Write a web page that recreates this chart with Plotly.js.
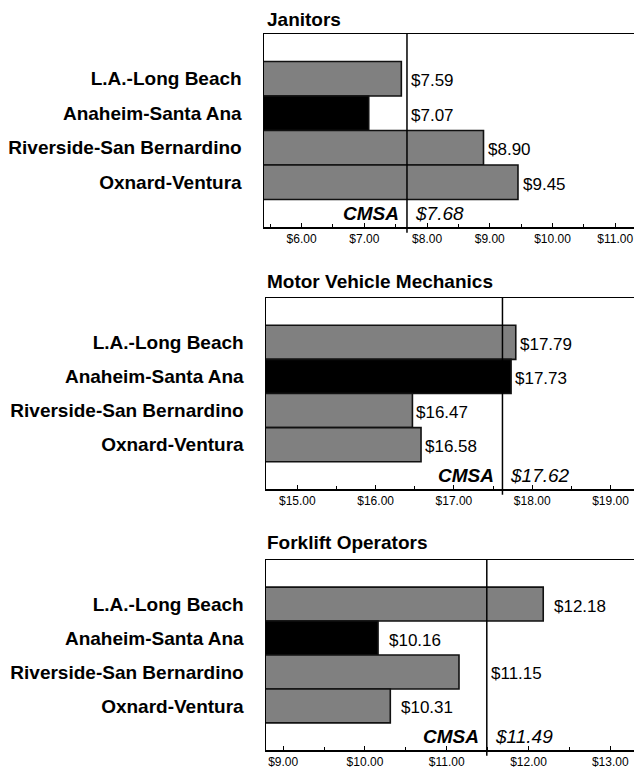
<!DOCTYPE html>
<html>
<head>
<meta charset="utf-8">
<script src="https://cdn.plot.ly/plotly-3.0.1.min.js"></script>
<style>html,body{margin:0;padding:0;background:#fff;}#chart{width:634px;height:771px;}</style>
</head>
<body>
<div id="chart"></div>
<script>
// ---- data ----
const categories = ['L.A.-Long Beach', 'Anaheim-Santa Ana', 'Riverside-San Bernardino', 'Oxnard-Ventura'];
const titles = ['Janitors', 'Motor Vehicle Mechanics', 'Forklift Operators'];
const janitors = [7.59, 7.07, 8.90, 9.45];
const mechanics = [17.79, 17.73, 16.47, 16.58];
const forklift = [12.18, 10.16, 11.15, 10.31];
const cmsa = [7.68, 17.62, 11.49];
const cmsaLabel = 'CMSA';

// ---- styling / layout ----
const series = [janitors, mechanics, forklift];
const barColors = ['#808080', '#000000', '#808080', '#808080'];
const W = 634, H = 771;
const FONT = 'Arial, "Liberation Sans", Helvetica, sans-serif';
const panels = [
  {top: 34, bottom: 227, left: 264, xrange: [5.4, 11.3], labShift: 3, titleY: 19},
  {top: 298, bottom: 489, left: 266, xrange: [14.6, 19.3], labShift: 2, titleY: 281},
  {top: 560, bottom: 750, left: 266, xrange: [8.79, 13.29], labShift: 9, titleY: 542}
];
const yPos = categories.map((c, i) => categories.length - i);
const LABEL_W = 50; // approx px width of a value label

const data = [];
const shapes = [];
const annotations = [];
const layout = {
  width: W, height: H,
  margin: {l: 0, r: 0, t: 0, b: 0},
  paper_bgcolor: '#fff', plot_bgcolor: '#fff',
  showlegend: false,
  bargap: 0,
  font: {family: FONT, color: '#000'},
  shapes: shapes, annotations: annotations
};

panels.forEach((p, k) => {
  const sfx = k === 0 ? '' : String(k + 1);
  const xa = 'x' + sfx, ya = 'y' + sfx;
  const vals = series[k];
  const pxPerUnit = (W - p.left) / (p.xrange[1] - p.xrange[0]);
  data.push({
    type: 'bar', orientation: 'h',
    x: vals, y: yPos, width: 1,
    xaxis: xa, yaxis: ya,
    marker: {color: barColors, line: {color: '#111', width: 1.6}},
    hoverinfo: 'skip'
  });
  layout['xaxis' + sfx] = {
    anchor: ya,
    domain: [p.left / W, 1],
    range: p.xrange,
    tick0: 0, dtick: 1,
    tickprefix: '$', tickformat: '.2f',
    ticks: 'inside', ticklen: 4, tickwidth: 1, tickcolor: '#000',
    minor: {dtick: 0.5, ticks: 'inside', ticklen: 3, tickcolor: '#000', showgrid: false},
    showline: true, mirror: true, linecolor: '#000', linewidth: 1.5,
    showgrid: false, zeroline: false,
    tickfont: {family: FONT, size: 12, color: '#000'},
    fixedrange: true
  };
  layout['yaxis' + sfx] = {
    anchor: xa,
    domain: [1 - p.bottom / H, 1 - p.top / H],
    range: [-0.3, 5.3],
    tickvals: yPos, ticktext: categories,
    ticks: '', ticklabelstandoff: 17,
    showline: true, linecolor: '#000', linewidth: 1.5,
    showgrid: false, zeroline: false,
    tickfont: {family: FONT, size: 19, color: '#000', weight: 'bold'},
    fixedrange: true
  };
  // CMSA reference line
  shapes.push({
    type: 'line', xref: xa, yref: ya + ' domain',
    x0: cmsa[k], x1: cmsa[k], y0: -0.03, y1: 1,
    line: {color: '#000', width: 1.5}
  });
  // value labels: after bar end, unless that would collide with the CMSA line
  vals.forEach((v, i) => {
    const gapPx = (cmsa[k] - v) * pxPerUnit;
    const collide = gapPx > -2 && gapPx < LABEL_W + p.labShift;
    annotations.push({
      xref: xa, yref: ya, x: collide ? Math.max(v, cmsa[k]) : v, y: yPos[i],
      xanchor: 'left', yanchor: 'middle', xshift: collide ? 2 : p.labShift, yshift: -2,
      text: '$' + v.toFixed(2), showarrow: false,
      font: {family: FONT, size: 17, color: '#000'}
    });
  });
  // CMSA label
  annotations.push({
    xref: xa, yref: ya, x: cmsa[k], y: 0.1,
    xanchor: 'right', yanchor: 'middle', xshift: -6,
    text: cmsaLabel, showarrow: false,
    font: {family: FONT, size: 19, color: '#000', weight: 'bold', style: 'italic'}
  });
  annotations.push({
    xref: xa, yref: ya, x: cmsa[k], y: 0.1,
    xanchor: 'left', yanchor: 'middle', xshift: 6,
    text: '$' + cmsa[k].toFixed(2), showarrow: false,
    font: {family: FONT, size: 19, color: '#000', style: 'italic'}
  });
  // panel title
  annotations.push({
    xref: 'paper', yref: 'paper', x: 265 / W, y: 1 - p.titleY / H,
    xanchor: 'left', yanchor: 'middle',
    text: titles[k], showarrow: false,
    font: {family: FONT, size: 19, color: '#000', weight: 'bold'}
  });
});

Plotly.newPlot('chart', data, layout, {displayModeBar: false, staticPlot: true});
</script>
</body>
</html>
